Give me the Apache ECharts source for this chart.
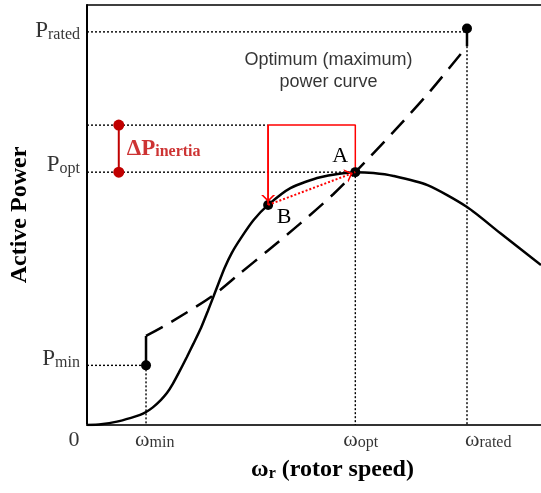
<!DOCTYPE html>
<html><head><meta charset="utf-8">
<script src="https://cdn.jsdelivr.net/npm/echarts@6/dist/echarts.min.js"></script>
<style>html,body{margin:0;padding:0;background:#fff}#c{width:541px;height:493px}</style>
</head><body><div id="c"></div>
<script>
// ---------------- data (arbitrary units, 0..100) ----------------
const solidCurveX = [0, 3.1, 6.6, 9.7, 11.7, 13.0, 14.5, 16.3, 17.6, 18.9, 20.2, 22.0, 23.5, 25.1, 26.6, 27.9, 29.0, 30.3, 31.9, 33.9, 36.7, 39.9, 44.8, 51.4, 59.1, 63.1, 67.5, 75.0, 83.7, 91.0, 100];
const solidCurveY = [0, 0.2, 0.8, 1.7, 2.4, 3.1, 4.2, 6.0, 7.6, 9.8, 12.4, 16.2, 19.5, 23.1, 27.1, 30.7, 33.8, 37.4, 41.0, 44.5, 48.8, 52.4, 56.4, 59.0, 60.2, 60.0, 59.3, 57.1, 51.9, 45.7, 38.1];
const optCurveX = [13.0, 18.5, 27.7, 33.8, 39.8, 47.0, 54.3, 59.1, 67.5, 75.6, 83.7];
const optCurveY = [21.2, 24.5, 30.8, 36.2, 41.5, 48.0, 55.0, 60.2, 69.8, 79.5, 90.2];
const speedTicks = [13.0, 59.1, 83.7];          // ω_min, ω_opt, ω_rated
const speedTickSubs = ['min', 'opt', 'rated'];
const powerTicks = [93.6, 60.2, 14.2];          // P_rated, P_opt, P_min
const powerTickSubs = ['rated', 'opt', 'min'];
const pointA = [59.1, 60.2];
const pointB = [39.9, 52.4];
const pInertiaTop = 71.4;                        // P_opt + ΔP_inertia
const deltaMarkerX = 7.0;
const minDot = [13.0, 14.2];
const ratedDot = [83.7, 94.4];
const optCurveStart = [13.0, 21.2];
const optCurveEnd = [83.7, 90.2];

// ---------------- helpers ----------------
const SERIF = "'Liberation Serif','Times New Roman',serif";
const SANS = "'Liberation Sans',Arial,sans-serif";
const zip = (xs, ys) => xs.map((x, i) => [x, ys[i]]);
// open chevron, tip slightly behind the box centre (= line end point)
const chevron = 'path://M12,15 L19,22 L16.8,22 L12,17.2 L7.2,22 L5,22 Z M0,0 L0.02,0 L0,0.02 Z M24,24 L23.98,24 L24,23.98 Z';

const [wMin, wOpt, wRated] = speedTicks;
const [pRated, pOpt, pMin] = powerTicks;

const guides = [
  [[0, pRated], [wRated, pRated]],
  [[0, pInertiaTop], [pointB[0], pInertiaTop]],
  [[0, pOpt], [wOpt, pOpt]],
  [[0, pMin], [wMin, pMin]],
  [[wMin, pMin], [wMin, 0]],
  [[wOpt, pOpt], [wOpt, 0]],
  [[wRated, optCurveEnd[1]], [wRated, 0]]
];

const series = [];
guides.forEach(g => series.push({
  type: 'line', data: g, symbol: 'none', silent: true, z: 1,
  lineStyle: { color: '#000', width: 1.4, type: [2, 2] }
}));

series.push({
  type: 'line', data: zip(solidCurveX, solidCurveY), symbol: 'none', smooth: 0.25,
  lineStyle: { color: '#000', width: 2.5 }, z: 3, silent: true
});
series.push({
  type: 'line', data: zip(optCurveX, optCurveY), symbol: 'none', smooth: 0.3,
  lineStyle: { color: '#000', width: 2.5, type: [19, 10] }, z: 3, silent: true
});
series.push({
  type: 'line', data: [minDot, optCurveStart], symbol: 'none', silent: true, z: 3,
  lineStyle: { color: '#000', width: 2.5 }
});
series.push({
  type: 'line', data: [optCurveEnd, ratedDot], symbol: 'none', silent: true, z: 3,
  lineStyle: { color: '#000', width: 2.5 }
});
// red inertia path A -> up -> left -> down to B
series.push({
  type: 'line', data: [pointA, [pointA[0], pInertiaTop], [pointB[0], pInertiaTop], pointB],
  symbol: 'none', silent: true, z: 4, lineStyle: { color: '#ff0000', width: 1.5 }
});
series.push({
  type: 'lines', coordinateSystem: 'cartesian2d', silent: true, z: 9,
  symbol: ['none', chevron], symbolSize: 24,
  lineStyle: { color: '#ff0000', width: 1.5, opacity: 1 },
  data: [{ coords: [[pointB[0], pInertiaTop], pointB] }]
});
series.push({
  type: 'lines', coordinateSystem: 'cartesian2d', silent: true, z: 9,
  symbol: ['none', chevron], symbolSize: 24,
  lineStyle: { color: '#ff0000', width: 2, type: [2, 2], opacity: 1 },
  data: [{ coords: [pointB, pointA] }]
});
// ΔP inertia marker
series.push({
  type: 'line', data: [[deltaMarkerX, pOpt], [deltaMarkerX, pInertiaTop]],
  symbol: 'circle', symbolSize: 11, showSymbol: true, silent: true, z: 6,
  itemStyle: { color: '#c00000' }, lineStyle: { color: '#c00000', width: 2 }
});
series.push({
  type: 'scatter', symbolSize: 0, silent: true, z: 7,
  data: [[deltaMarkerX, (pOpt + pInertiaTop) / 2]],
  label: {
    show: true, position: 'right', distance: 8,
    formatter: '{d|ΔP}{s|inertia}',
    rich: {
      d: { fontFamily: SERIF, fontWeight: 'bold', fontSize: 23, color: '#c00000' },
      s: { fontFamily: SERIF, fontWeight: 'bold', fontSize: 16, color: '#c00000', verticalAlign: 'bottom' }
    }
  }
});
// black dots + A / B labels
series.push({
  type: 'scatter', symbolSize: 10, silent: true, z: 8,
  itemStyle: { color: '#000', opacity: 1 },
  data: [
    { value: minDot },
    { value: pointB, label: { show: true, formatter: 'B', position: 'inside', offset: [16, 12] } },
    { value: pointA, label: { show: true, formatter: 'A', position: 'inside', offset: [-15, -16] } },
    { value: ratedDot }
  ],
  label: { fontFamily: SERIF, fontSize: 22, color: '#000' }
});
// y tick labels (P_rated, P_opt, P_min)
const pOffsets = [-1, -7, -6];
series.push({
  type: 'scatter', symbolSize: 0, silent: true, z: 9, clip: false,
  data: powerTicks.map((v, i) => ({ value: [0, v], label: { offset: [0, pOffsets[i]] } })),
  label: {
    show: true, position: 'left', distance: 7,
    formatter: p => '{p|P}{s|' + powerTickSubs[p.dataIndex] + '}',
    rich: {
      p: { fontFamily: SERIF, fontSize: 23, color: '#000' },
      s: { fontFamily: SERIF, fontSize: 16, color: '#000', verticalAlign: 'bottom' }
    }
  }
});
// x tick labels (ω_min, ω_opt, ω_rated)
const wOffsets = [-11, -12, -2];
series.push({
  type: 'scatter', symbolSize: 0, silent: true, z: 9, clip: false,
  data: speedTicks.map((v, i) => ({ value: [v, 0], label: { offset: [wOffsets[i], 0] } })),
  label: {
    show: true, position: 'bottom', distance: 4, align: 'left',
    formatter: p => '{w|ω}{s|' + speedTickSubs[p.dataIndex] + '}',
    rich: {
      w: { fontFamily: SERIF, fontSize: 22, color: '#000' },
      s: { fontFamily: SERIF, fontSize: 16, color: '#000', verticalAlign: 'bottom' }
    }
  }
});
// origin "0" and the annotation text
series.push({
  type: 'scatter', symbolSize: 0, silent: true, z: 9, clip: false,
  data: [
    { value: [0, 0], label: { formatter: '0', offset: [-13, 15], fontFamily: SERIF, fontSize: 22, color: '#000' } },
    { value: [53.2, 84.3], label: { formatter: 'Optimum (maximum)\npower curve', fontFamily: SANS, fontSize: 18, lineHeight: 22, color: '#000' } }
  ],
  label: { show: true, position: 'inside', color: '#000', textBorderWidth: 0 }
});

const option = {
  animation: false,
  backgroundColor: '#fff',
  grid: { left: 86, right: 0, top: 5, bottom: 68, containLabel: false },
  xAxis: [{
    type: 'value', min: 0, max: 100, position: 'bottom',
    axisLine: { show: true, onZero: false, lineStyle: { color: '#333', width: 2 } },
    axisTick: { show: false }, axisLabel: { show: false }, splitLine: { show: false },
    name: '{w|ω}{r|r}{t| (rotor speed)}', nameLocation: 'middle', nameGap: 33,
    nameTextStyle: {
      padding: [0, 0, 0, 37],
      rich: {
        w: { fontFamily: SERIF, fontWeight: 'bold', fontSize: 24, color: '#000' },
        r: { fontFamily: SERIF, fontWeight: 'bold', fontSize: 16, color: '#000', verticalAlign: 'bottom' },
        t: { fontFamily: SERIF, fontWeight: 'bold', fontSize: 24, color: '#000' }
      }
    }
  }, {
    type: 'value', min: 0, max: 100, position: 'top',
    axisLine: { show: true, onZero: false, lineStyle: { color: '#000', width: 1.5 } },
    axisTick: { show: false }, axisLabel: { show: false }, splitLine: { show: false }
  }],
  yAxis: {
    type: 'value', min: 0, max: 100,
    axisLine: { show: true, onZero: false, lineStyle: { color: '#000', width: 2 } },
    axisTick: { show: false }, axisLabel: { show: false }, splitLine: { show: false },
    name: 'Active Power', nameLocation: 'middle', nameGap: 55,
    nameTextStyle: { fontFamily: SERIF, fontWeight: 'bold', fontSize: 24, color: '#000' }
  },
  series
};
const chart = echarts.init(document.getElementById('c'), null, { renderer: 'canvas' });
chart.setOption(option);
</script>
</body></html>
